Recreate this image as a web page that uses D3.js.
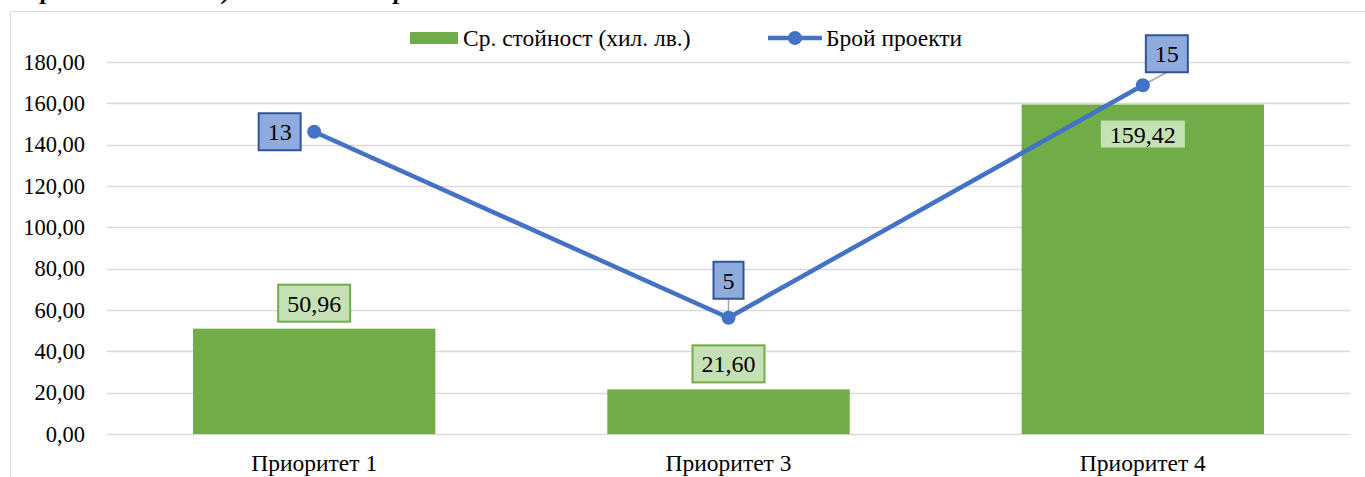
<!DOCTYPE html>
<html>
<head>
<meta charset="utf-8">
<script src="https://cdn.jsdelivr.net/npm/d3@7"></script>
<style>
  body { margin: 0; background: #fff; }
  svg { display: block; font-family: "Liberation Serif", "Times New Roman", serif; }
  svg text { font-family: "Liberation Serif", "Times New Roman", serif; }
</style>
</head>
<body>
<svg id="chart" width="1365" height="477"></svg>
<script>
// data
var categories = ["Приоритет 1", "Приоритет 3", "Приоритет 4"];
var avgValue = [50.96, 21.60, 159.42];   // Ср. стойност (хил. лв.)
var projects = [13, 5, 15];              // Брой проекти
var yTicks = [0, 20, 40, 60, 80, 100, 120, 140, 160, 180];
var seriesNames = ["Ср. стойност (хил. лв.)", "Брой проекти"];

var svg = d3.select("#chart");
var fmt = function(v){ return d3.format(".2f")(v).replace(".", ","); };

var plotLeft = 107, plotRight = 1350, plotTop = 62, plotBottom = 434;

var x = d3.scaleBand().domain(categories).range([plotLeft, plotRight]).paddingInner(0.415).paddingOuter(0.2075);
var y = d3.scaleLinear().domain([0, 180]).range([plotBottom, plotTop]);
var y2 = d3.scaleLinear().domain([0, 16]).range([plotBottom, plotTop]);

//cut off heading line above the chart box
svg.append("text").attr("x", 30).attr("y", -1)
  .style("font-size", "25px").style("font-weight", "bold").style("font-style", "italic")
  .text("средна стойност) по самост. мерки");

//chart frame
svg.append("rect").attr("x", 10.5).attr("y", 11.5).attr("width", 1400).attr("height", 500)
  .attr("fill", "#fff").attr("stroke", "#d9d9d9");

//grid
svg.append("g").selectAll("line").data(yTicks).enter().append("line")
  .attr("x1", plotLeft).attr("x2", plotRight)
  .attr("y1", function(d){ return Math.round(y(d)) + 0.5; })
  .attr("y2", function(d){ return Math.round(y(d)) + 0.5; })
  .attr("stroke", "#d9d9d9").attr("stroke-width", 1.5);

//y axis labels
var yAxis = d3.axisLeft(y).tickValues(yTicks).tickFormat(fmt).tickSize(0).tickPadding(0);
var ya = svg.append("g").attr("transform", "translate(" + (plotLeft - 22) + ",0)").call(yAxis)
  .attr("font-family", "Liberation Serif");
ya.select(".domain").remove();
ya.selectAll("text").style("font-size", "22.5px").attr("fill", "#000");

//x axis labels
var xAxis = d3.axisBottom(x).tickSize(0).tickPadding(0);
var xa = svg.append("g").attr("transform", "translate(0," + (plotBottom + 20) + ")").call(xAxis)
  .attr("font-family", "Liberation Serif");
xa.select(".domain").remove();
xa.selectAll("text").style("font-size", "23.5px").attr("fill", "#000");

//bars
svg.append("g").selectAll("rect").data(avgValue).enter().append("rect")
  .attr("x", function(d, i){ return x(categories[i]); })
  .attr("y", function(d){ return y(d); })
  .attr("width", x.bandwidth())
  .attr("height", function(d){ return plotBottom - y(d); })
  .attr("fill", "#70ad47");

//line
var pts = projects.map(function(d, i){ return [x(categories[i]) + x.bandwidth() / 2, y2(d)]; });
svg.append("path").attr("d", d3.line()(pts))
  .attr("fill", "none").attr("stroke", "#4472c4").attr("stroke-width", 4.5).attr("stroke-linejoin", "round");

//label boxes for the line (offset from point)
var lineLabelOff = [[-34.5, 0], [0, -37.5], [24, -31.5]];
pts.forEach(function(p, i){
  var cx = p[0] + lineLabelOff[i][0], cy = p[1] + lineLabelOff[i][1];
  var w = String(projects[i]).length * 12 + 18, h = 37;
  if (i > 0) {
    svg.append("line").attr("x1", p[0]).attr("y1", p[1])
      .attr("x2", cx).attr("y2", cy + h / 2)
      .attr("stroke", "#a6a6a6").attr("stroke-width", 1.5);
  }
  svg.append("rect").attr("x", cx - w / 2).attr("y", cy - h / 2).attr("width", w).attr("height", h)
    .attr("fill", "#8faadc").attr("stroke", "#2f5597").attr("stroke-width", 2);
  svg.append("text").attr("x", cx).attr("y", cy + 8.5).attr("text-anchor", "middle")
    .style("font-size", "24px").text(projects[i]);
});

//markers
svg.append("g").selectAll("circle").data(pts).enter().append("circle")
  .attr("cx", function(d){ return d[0]; }).attr("cy", function(d){ return d[1]; })
  .attr("r", 7).attr("fill", "#4472c4");

//bar labels
avgValue.forEach(function(d, i){
  var cx = x(categories[i]) + x.bandwidth() / 2;
  var inside = d > 150;
  var cy = inside ? y(d) + 29.5 : y(d) - 25.5;
  var w = fmt(d).length * 12 + 12, h = inside ? 27 : 37;
  svg.append("rect").attr("x", cx - w / 2).attr("y", cy - h / 2).attr("width", w).attr("height", h)
    .attr("fill", "#c5e0b4").attr("stroke", inside ? "none" : "#70ad47").attr("stroke-width", 2);
  svg.append("text").attr("x", cx).attr("y", cy + 8.5).attr("text-anchor", "middle")
    .style("font-size", "24px").text(fmt(d));
});

//legend
var lg = svg.append("g");
lg.append("rect").attr("x", 410).attr("y", 32).attr("width", 48).attr("height", 12).attr("fill", "#70ad47");
lg.append("text").attr("x", 463).attr("y", 46).style("font-size", "23.5px").text(seriesNames[0]);
lg.append("line").attr("x1", 768).attr("x2", 822).attr("y1", 38).attr("y2", 38)
  .attr("stroke", "#4472c4").attr("stroke-width", 4.5);
lg.append("circle").attr("cx", 795).attr("cy", 38).attr("r", 7).attr("fill", "#4472c4");
lg.append("text").attr("x", 826).attr("y", 46).style("font-size", "23.5px").text(seriesNames[1]);
</script>
</body>
</html>
